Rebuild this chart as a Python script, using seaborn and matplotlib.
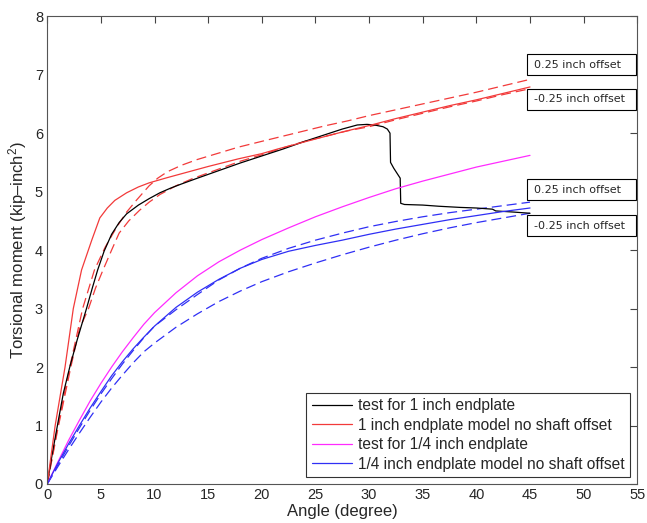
import matplotlib
matplotlib.use("Agg")
import matplotlib.pyplot as plt
from matplotlib.patches import Rectangle
import seaborn as sns

# Data (angle in degrees, moment in kip-inch^2)
test1_x = [0, 0.5, 1, 1.5, 2.1, 2.8, 3.66, 4.2, 4.7, 5.3, 6.0, 6.7, 7.4, 8.5, 9.5,
           10.5, 11.5, 12.5, 14, 16, 18, 20, 22, 24, 26, 27.5, 28.9, 29.8, 30.5,
           31.3, 31.7, 31.95, 32.0, 32.3, 32.9, 32.95, 33.3, 35, 36.5, 38.5, 40,
           41.5, 41.8, 43.5, 45]
test1_y = [0, 0.55, 1.05, 1.55, 2.0, 2.47, 3.0, 3.35, 3.66, 3.98, 4.27, 4.47, 4.62,
           4.77, 4.88, 4.98, 5.06, 5.13, 5.23, 5.36, 5.49, 5.61, 5.73, 5.86, 5.98,
           6.07, 6.14, 6.15, 6.14, 6.11, 6.07, 6.0, 5.5, 5.4, 5.23, 4.8, 4.78,
           4.77, 4.75, 4.73, 4.72, 4.7, 4.67, 4.65, 4.63]

model1_x = [0, 0.74, 1.66, 2.43, 3.2, 4.15, 4.9, 5.6, 6.3, 7.4, 8.5, 9.5, 11.2, 13,
            15, 17.8, 20, 21.5, 25, 27.5, 30, 32.5, 35, 37.5, 40, 42.5, 45]
model1_y = [0, 1, 2, 3, 3.66, 4.17, 4.55, 4.72, 4.85, 4.98, 5.08, 5.15, 5.24, 5.33,
            5.43, 5.56, 5.65, 5.73, 5.9, 6.02, 6.13, 6.25, 6.36, 6.47, 6.57, 6.68,
            6.79]

model1_pos_x = [0, 1, 2.1, 3.3, 4.4, 5.4, 6.5, 7.4, 8.3, 9.5, 10.3, 11.2, 12.5, 14,
                16, 17.8, 20, 22, 24, 26, 28, 30, 32.5, 35, 37.5, 40, 42.5, 45]
model1_pos_y = [0, 1.0, 2.0, 3.0, 3.66, 4.05, 4.4, 4.65, 4.85, 5.1, 5.23, 5.34,
                5.45, 5.55, 5.66, 5.76, 5.86, 5.95, 6.04, 6.13, 6.21, 6.3, 6.4, 6.5,
                6.6, 6.7, 6.81, 6.92]

model1_neg_x = [0, 1, 2.2, 3.0, 3.85, 4.5, 5.2, 6.0, 6.7, 7.6, 8.6, 9.5, 10.5, 12,
                13.5, 15, 16.5, 18, 20, 22, 24, 26, 28, 30, 32.5, 35, 37.5, 40, 42.5,
                45]
model1_neg_y = [0, 0.95, 2.0, 2.65, 3.0, 3.35, 3.66, 4.0, 4.29, 4.5, 4.68, 4.82,
                4.95, 5.1, 5.22, 5.32, 5.42, 5.52, 5.63, 5.75, 5.86, 5.95, 6.04, 6.11,
                6.23, 6.34, 6.45, 6.55, 6.66, 6.76]

quarter_x = [0, 1, 2, 3, 4, 5, 6, 7, 8, 9, 10, 12, 14, 16, 18, 20, 22.5, 25, 27.5,
             30, 32.5, 35, 37.5, 40, 42.5, 45]
test4_y = [0, 0.38, 0.75, 1.09, 1.42, 1.72, 2.0, 2.26, 2.5, 2.73, 2.93, 3.27, 3.56,
           3.8, 4.0, 4.18, 4.38, 4.57, 4.74, 4.9, 5.05, 5.18, 5.3, 5.42, 5.52, 5.62]
model4_y = [0, 0.36, 0.69, 1.0, 1.3, 1.58, 1.85, 2.09, 2.31, 2.51, 2.7, 3.02, 3.28,
            3.5, 3.69, 3.84, 3.98, 4.08, 4.17, 4.27, 4.36, 4.44, 4.52, 4.59, 4.66,
            4.72]
model4_pos_y = [0, 0.33, 0.65, 0.96, 1.26, 1.54, 1.8, 2.05, 2.28, 2.5, 2.7, 2.98,
                3.24, 3.49, 3.69, 3.86, 4.03, 4.17, 4.29, 4.4, 4.49, 4.57, 4.64, 4.7,
                4.76, 4.82]
model4_neg_y = [0, 0.3, 0.59, 0.87, 1.14, 1.4, 1.64, 1.86, 2.07, 2.26, 2.41, 2.68,
                2.91, 3.12, 3.3, 3.46, 3.63, 3.78, 3.92, 4.05, 4.17, 4.28, 4.38, 4.47,
                4.55, 4.63]

legend_labels = ["test for 1 inch endplate",
                 "1 inch endplate model no shaft offset",
                 "test for 1/4 inch endplate",
                 "1/4 inch endplate model no shaft offset"]

offset_labels = ["0.25 inch offset", "-0.25 inch offset",
                 "0.25 inch offset", "-0.25 inch offset"]
offset_label_y = [7.17, 6.58, 5.03, 4.42]

RED = "#f23a3a"
MAGENTA = "#ff2bff"
BLUE = "#2f2ff5"

sns.set_style("white")
plt.rcParams["font.family"] = ["Liberation Sans", "DejaVu Sans"]
plt.rcParams["mathtext.fontset"] = "custom"
plt.rcParams["mathtext.rm"] = "Liberation Sans"
plt.rcParams["mathtext.it"] = "Liberation Sans"

fig = plt.figure(figsize=(6.47, 5.23), dpi=100)
ax = fig.add_axes([0.073, 0.0746, 0.912, 0.8944])

lw = 0.9
dash = (8, 4)

# dashed offset models first
dashed = [(model1_pos_x, model1_pos_y, RED), (model1_neg_x, model1_neg_y, RED),
          (quarter_x, model4_pos_y, BLUE), (quarter_x, model4_neg_y, BLUE)]
for xs, ys, c in dashed:
    sns.lineplot(x=xs, y=ys, ax=ax, color=c, lw=lw, sort=False, estimator=None)
    ax.lines[-1].set_dashes(dash)

# solid curves (legend entries)
solid = [(test1_x, test1_y, "black"), (model1_x, model1_y, RED),
         (quarter_x, test4_y, MAGENTA), (quarter_x, model4_y, BLUE)]
for (xs, ys, c), lab in zip(solid, legend_labels):
    sns.lineplot(x=xs, y=ys, ax=ax, color=c, lw=lw, sort=False, estimator=None,
                 label=lab)

ax.set_xlim(0, 55)
ax.set_ylim(0, 8)
ax.set_xticks(range(0, 56, 5))
ax.set_yticks(range(0, 9))
ax.tick_params(direction="in", length=5, width=0.8, top=True, right=True,
               labelsize=10.5, color="#444444", pad=3)
for sp in ax.spines.values():
    sp.set_color("#555555")
    sp.set_linewidth(0.8)

ax.set_xlabel("Angle (degree)", fontsize=12, labelpad=1)
ax.set_ylabel("Torsional moment (kip\u2013inch$^{2}$)", fontsize=12, labelpad=4)

leg = ax.legend(loc="lower right", fontsize=11.2, frameon=True, fancybox=False,
                handlelength=2.6, labelspacing=0.28, borderpad=0.35,
                handletextpad=0.4, borderaxespad=0.45)
leg.get_frame().set_edgecolor("black")
leg.get_frame().set_linewidth(0.8)

# offset label boxes
for txt, yy in zip(offset_labels, offset_label_y):
    ax.add_patch(Rectangle((44.7, yy - 0.18), 10.2, 0.36, facecolor="white",
                           edgecolor="black", lw=0.8, clip_on=False, zorder=5))
    ax.text(45.4, yy, txt, fontsize=8, va="center", ha="left",
            family="DejaVu Sans", zorder=6)

fig.savefig("out.png", dpi=100)
